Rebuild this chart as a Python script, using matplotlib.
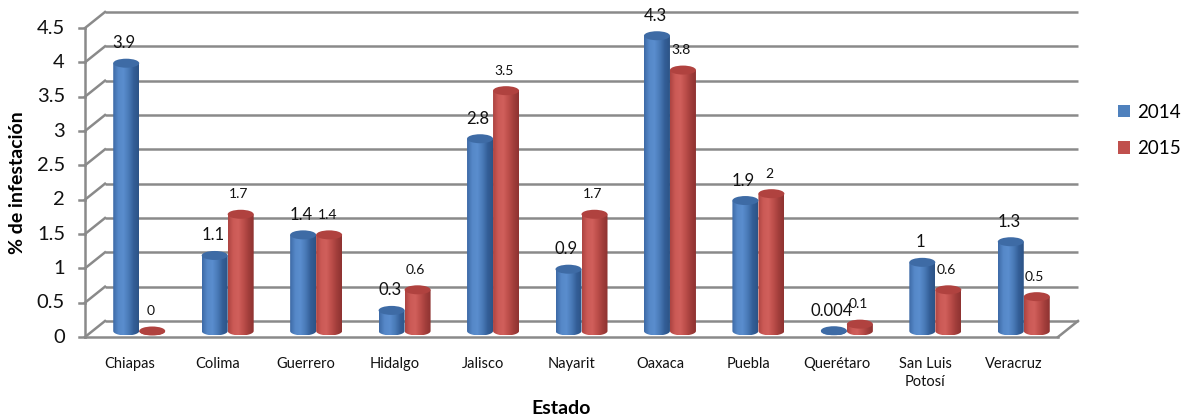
import numpy as np
import matplotlib
matplotlib.use('Agg')
import matplotlib.pyplot as plt
from matplotlib.patches import Ellipse, Polygon, Rectangle
from matplotlib.colors import LinearSegmentedColormap

# data
estados = ['Chiapas', 'Colima', 'Guerrero', 'Hidalgo', 'Jalisco', 'Nayarit',
           'Oaxaca', 'Puebla', 'Querétaro', 'San Luis\nPotosí', 'Veracruz']
v2014 = [3.9, 1.1, 1.4, 0.3, 2.8, 0.9, 4.3, 1.9, 0.004, 1, 1.3]
v2015 = [0, 1.7, 1.4, 0.6, 3.5, 1.7, 3.8, 2, 0.1, 0.6, 0.5]
years = ['2014', '2015']
yticks = [0, 0.5, 1, 1.5, 2, 2.5, 3, 3.5, 4, 4.5]

plt.rcParams['font.family'] = ['Lato', 'DejaVu Sans']

W, H = 1187, 419
fig = plt.figure(figsize=(W / 100, H / 100), dpi=100)
# axes = front plane of the 3D box
left_px, right_px, bot_px, top_px = 85, 1058, 337, 28
ax = fig.add_axes([left_px / W, (H - bot_px) / H,
                   (right_px - left_px) / W, (bot_px - top_px) / H])
n = len(estados)
ax.set_xlim(-0.5, n - 0.5)
ax.set_ylim(0, 4.5)
ax.axis('off')

px_x = (right_px - left_px) / n
px_y = (bot_px - top_px) / 4.5
dx, dy = 20 / px_x, 16 / px_y          # depth of the box
bx, by = 10 / px_x, 6 / px_y           # bars sit half way in
bar_w = 26 / px_x
ell_h = 9 / px_y

grid_c = '#8a8a8a'
glw = 1.8
x0, x1 = -0.5, n - 0.5

# back wall + side wall
for v in yticks:
    ax.plot([x0 + dx, x1 + dx], [v + dy, v + dy], color=grid_c, lw=glw,
            clip_on=False, zorder=1, solid_capstyle='butt')
    ax.plot([x0, x0 + dx], [v, v + dy], color=grid_c, lw=glw, clip_on=False, zorder=1)
    ax.plot([x0 - 6 / px_x, x0], [v, v], color=grid_c, lw=glw, clip_on=False, zorder=1)
    ax.text(x0 - 20 / px_x, v, f'{v:g}', ha='right', va='center', fontsize=14.5,
            color='#111111')
ax.plot([x0, x0], [0, 4.5], color=grid_c, lw=glw, clip_on=False, zorder=1)
# floor
ax.plot([x0, x1], [0, 0], color=grid_c, lw=glw, clip_on=False, zorder=1)
ax.plot([x1, x1 + dx], [0, dy], color=grid_c, lw=glw, clip_on=False, zorder=1)

blue_cmap = LinearSegmentedColormap.from_list(
    'b', ['#3d6aa6', '#5688c8', '#5a8dce', '#4a7bb8', '#345f98', '#2c5386'])
red_cmap = LinearSegmentedColormap.from_list(
    'r', ['#ad4441', '#cc5a56', '#d05f5b', '#bd4e4a', '#a23e3b', '#8e3331'])
tops = ['#3e6ba5', '#b0423f']
cmaps = [blue_cmap, red_cmap]
colors = ['#4f81bd', '#c0504d']


def cylinder(xc, h, cmap, top_color):
    y0 = by
    y1 = by + h
    t = np.linspace(np.pi, 2 * np.pi, 40)
    arc = np.column_stack([xc + bar_w / 2 * np.cos(t), y0 + ell_h / 2 * np.sin(t)])
    verts = np.vstack([[xc - bar_w / 2, y1], arc, [xc + bar_w / 2, y1]])
    body = Polygon(verts, closed=True, facecolor='none', edgecolor='none', zorder=3)
    ax.add_patch(body)
    grad = np.linspace(0, 1, 64).reshape(1, -1)
    im = ax.imshow(grad, cmap=cmap, aspect='auto', origin='lower', zorder=3,
                   extent=[xc - bar_w / 2, xc + bar_w / 2, y0 - ell_h / 2, y1])
    im.set_clip_path(body)
    ax.add_patch(Ellipse((xc, y1), bar_w, ell_h, facecolor=top_color,
                         edgecolor='none', zorder=4))


for i in range(n):
    for j, vals in enumerate([v2014, v2015]):
        xc = i + bx + (j - 0.5) * bar_w
        cylinder(xc, vals[i], cmaps[j], tops[j])
        ax.text(xc - 2 / px_x, by + vals[i] + 20 / px_y, f'{vals[i]:g}',
                ha='center', va='center', fontsize=12 if j == 0 else 10,
                color='#111111', zorder=6)

ax.set_xlim(-0.5, n - 0.5)
ax.set_ylim(0, 4.5)

# category labels
for i, e in enumerate(estados):
    ax.text(i, -20 / px_y, e, ha='center', va='top', fontsize=10.5,
            color='#111111', linespacing=1.35)

fig.text(18 / W, 1 - 183 / H, '% de infestación', rotation=90, ha='center',
         va='center', fontsize=14, fontweight='bold')
fig.text(561 / W, 1 - 408 / H, 'Estado', ha='center', va='center',
         fontsize=14, fontweight='bold')

handles = [Rectangle((0, 0), 1, 1, facecolor=c) for c in colors]
fig.legend(handles, years, loc='center left', bbox_to_anchor=(1118 / W, 1 - 130.5 / H),
           frameon=False, borderpad=0, borderaxespad=0, handlelength=0.65,
           handleheight=0.65, handletextpad=0.35, labelspacing=1.05, fontsize=13.5)

fig.savefig('out.png', dpi=100)
